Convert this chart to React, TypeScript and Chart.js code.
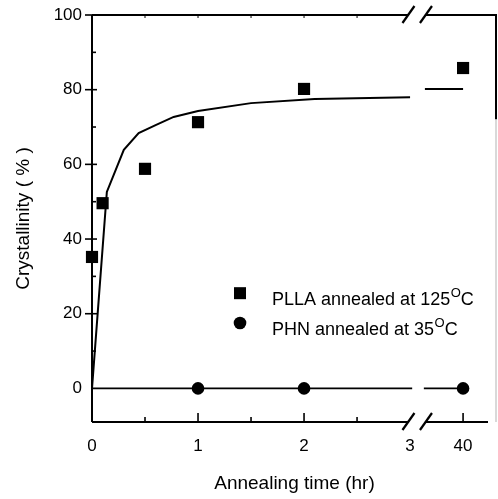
import React, { useEffect, useRef } from "react";
import { Chart, registerables } from "chart.js";

Chart.register(...registerables);

// ---- data ----
const xTickPositions = [0, 1, 2, 3, 3.5];
const xTickLabels = ["0", "1", "2", "3", "40"];
const yTickValues = [0, 20, 40, 60, 80, 100];
const yMinorTicks = [10, 30, 50, 70, 90];
const xMinorTicks = [0.5, 1.5, 2.5];
const xMajorInner = [1, 2, 3.5];
const topTicks = [0.5, 1, 1.5, 2, 2.5];

const pllaTimes = [0, 0.1, 0.5, 1, 2, 40];
const pllaCrystallinity = [35.2, 49.6, 58.8, 71.3, 80.2, 85.8];
const phnTimes = [1, 2, 40];
const phnCrystallinity = [0, 0, 0];

const fitTimes = [0, 0.14, 0.3, 0.44, 0.6, 0.77, 1, 1.5, 2.1, 3];
const fitCrystallinity = [0, 52.6, 63.9, 68.4, 70.5, 72.7, 74.3, 76.4, 77.5, 78.0];
const fitTailPositions = [3.14, 3.5];
const fitTailCrystallinity = [80.2, 80.2];

const phnLinePositions = [0, 3.02];
const phnLineValues = [0, 0];
const phnTailPositions = [3.13, 3.5];
const phnTailValues = [0, 0];

const legendLabels = ["PLLA annealed at 125", "PHN annealed at 35"];

// axis break: times up to 3 hr plotted linearly, 40 hr placed after the break
const toAxis = (t: number) => (t <= 3 ? t : 3.5);

const FONT = '"Liberation Sans", Arial, Helvetica, sans-serif';

const axesPlugin = {
  id: "brokenAxes",
  beforeDatasetsDraw(chart: any) {
    const { ctx, chartArea, scales } = chart;
    const x = scales.x;
    const y = scales.y;
    const L = chartArea.left, R = chartArea.right, T = chartArea.top, B = chartArea.bottom;
    const br1 = x.getPixelForValue(2.985);
    const br2 = x.getPixelForValue(3.15);
    ctx.save();
    ctx.strokeStyle = "#000";
    ctx.lineWidth = 2;
    ctx.lineCap = "butt";
    // left axis
    ctx.beginPath();
    ctx.moveTo(L, T);
    ctx.lineTo(L, B);
    ctx.stroke();
    // top axis with break
    ctx.beginPath();
    ctx.moveTo(L, T);
    ctx.lineTo(br1, T);
    ctx.moveTo(br2, T);
    ctx.lineTo(R, T);
    ctx.stroke();
    // bottom axis with break
    ctx.beginPath();
    ctx.moveTo(L, B);
    ctx.lineTo(br1, B);
    ctx.moveTo(br2, B);
    ctx.lineTo(R - 9, B);
    ctx.stroke();
    // right axis (dark top part, faded lower part as in the scan)
    const fadeY = y.getPixelForValue(72);
    ctx.beginPath();
    ctx.moveTo(R - 1, T);
    ctx.lineTo(R - 1, fadeY);
    ctx.stroke();
    ctx.strokeStyle = "#d9d9d9";
    ctx.beginPath();
    ctx.moveTo(R - 1, fadeY);
    ctx.lineTo(R - 1, B);
    ctx.stroke();
    ctx.strokeStyle = "#000";
    // break slashes
    ctx.lineWidth = 2.2;
    for (const yy of [T, B]) {
      for (const bx of [br1, br2]) {
        ctx.beginPath();
        ctx.moveTo(bx - 6, yy + 8);
        ctx.lineTo(bx + 6, yy - 9);
        ctx.stroke();
      }
    }
    ctx.lineWidth = 1.6;
    // y ticks
    for (const v of yTickValues) {
      if (v === 0) continue;
      const py = y.getPixelForValue(v);
      ctx.beginPath();
      ctx.moveTo(L - 7, py);
      ctx.lineTo(L + 5, py);
      ctx.stroke();
    }
    for (const v of yMinorTicks) {
      const py = y.getPixelForValue(v);
      ctx.beginPath();
      ctx.moveTo(L, py);
      ctx.lineTo(L + 4, py);
      ctx.stroke();
    }
    // x ticks (bottom, pointing inward)
    for (const v of xMajorInner) {
      const px = x.getPixelForValue(v);
      ctx.beginPath();
      ctx.moveTo(px, B);
      ctx.lineTo(px, B - 9);
      ctx.stroke();
    }
    for (const v of xMinorTicks) {
      const px = x.getPixelForValue(v);
      ctx.beginPath();
      ctx.moveTo(px, B);
      ctx.lineTo(px, B - 5);
      ctx.stroke();
    }
    ctx.lineWidth = 1;
    for (const v of topTicks) {
      const px = x.getPixelForValue(v);
      ctx.beginPath();
      ctx.moveTo(px, T);
      ctx.lineTo(px, T + 3);
      ctx.stroke();
    }
    ctx.restore();
  },
  afterDraw(chart: any) {
    const { ctx, scales } = chart;
    const x = scales.x;
    const y = scales.y;
    const mx = x.getPixelForValue(1.396);
    const rows = [
      { py: y.getPixelForValue(25.5), shape: "rect" },
      { py: y.getPixelForValue(17.5), shape: "circle" },
    ];
    ctx.save();
    ctx.fillStyle = "#000";
    rows.forEach((r, i) => {
      if (r.shape === "rect") {
        ctx.fillRect(mx - 6, r.py - 6, 12, 12);
      } else {
        ctx.beginPath();
        ctx.arc(mx, r.py, 6.3, 0, Math.PI * 2);
        ctx.fill();
      }
      const tx = mx + 32;
      const base = r.py + 12;
      ctx.textBaseline = "alphabetic";
      ctx.textAlign = "left";
      ctx.font = `18px ${FONT}`;
      const main = legendLabels[i];
      ctx.fillText(main, tx, base);
      const w = ctx.measureText(main).width;
      ctx.font = `13px ${FONT}`;
      ctx.fillText("O", tx + w + 0.5, base - 8);
      const ow = ctx.measureText("O").width;
      ctx.font = `18px ${FONT}`;
      ctx.fillText("C", tx + w + ow + 0.5, base);
    });
    ctx.restore();
  },
};

export default function App() {
  const ref = useRef<HTMLCanvasElement | null>(null);
  useEffect(() => {
    if (!ref.current) return;
    Chart.defaults.font.family = FONT;
    Chart.defaults.color = "#000";
    const chart = new Chart(ref.current, {
      type: "line",
      data: {
        datasets: [
          {
            label: "fit",
            data: fitTimes.map((t, i) => ({ x: toAxis(t), y: fitCrystallinity[i] })),
            borderColor: "#000",
            borderWidth: 2,
            pointRadius: 0,
            tension: 0,
            fill: false,
          },
          {
            label: "fit tail",
            data: fitTailPositions.map((p, i) => ({ x: p, y: fitTailCrystallinity[i] })),
            borderColor: "#000",
            borderWidth: 2,
            pointRadius: 0,
            tension: 0,
            fill: false,
          },
          {
            label: "phn line",
            data: phnLinePositions.map((p, i) => ({ x: p, y: phnLineValues[i] })),
            borderColor: "#000",
            borderWidth: 1.8,
            pointRadius: 0,
            tension: 0,
            fill: false,
          },
          {
            label: "phn tail",
            data: phnTailPositions.map((p, i) => ({ x: p, y: phnTailValues[i] })),
            borderColor: "#000",
            borderWidth: 1.8,
            pointRadius: 0,
            tension: 0,
            fill: false,
          },
          {
            label: "PLLA annealed at 125°C",
            data: pllaTimes.map((t, i) => ({ x: toAxis(t), y: pllaCrystallinity[i] })),
            showLine: false,
            clip: false,
            pointStyle: "rect",
            pointRadius: 8.6,
            pointBackgroundColor: "#000",
            pointBorderColor: "#000",
            pointBorderWidth: 0,
          },
          {
            label: "PHN annealed at 35°C",
            data: phnTimes.map((t, i) => ({ x: toAxis(t), y: phnCrystallinity[i] })),
            showLine: false,
            clip: false,
            pointStyle: "circle",
            pointRadius: 6.3,
            pointBackgroundColor: "#000",
            pointBorderColor: "#000",
            pointBorderWidth: 0,
          },
        ],
      },
      options: {
        responsive: false,
        animation: false,
        devicePixelRatio: 1,
        layout: { autoPadding: false, padding: { top: 15, right: 1, left: 0, bottom: 0 } },
        plugins: { legend: { display: false }, tooltip: { enabled: false } },
        scales: {
          x: {
            type: "linear",
            min: 0,
            max: 3.82,
            grid: { display: false, drawTicks: false },
            border: { display: false },
            afterBuildTicks: (s: any) => {
              s.ticks = xTickPositions.map((v) => ({ value: v }));
            },
            afterFit: (s: any) => {
              s.height = 77;
              s.paddingLeft = 0;
              s.paddingRight = 0;
            },
            ticks: {
              autoSkip: false,
              maxRotation: 0,
              padding: 14,
              font: { size: 17 },
              color: "#000",
              callback: (v: any) => {
                const i = xTickPositions.indexOf(Number(v));
                return i >= 0 ? xTickLabels[i] : "";
              },
            },
            title: {
              display: true,
              text: "Annealing time (hr)",
              font: { size: 19 },
              color: "#000",
              padding: { top: 0, bottom: 4 },
            },
          },
          y: {
            type: "linear",
            min: -9,
            max: 100,
            grid: { display: false, drawTicks: false },
            border: { display: false },
            afterBuildTicks: (s: any) => {
              s.ticks = yTickValues.map((v) => ({ value: v }));
            },
            afterFit: (s: any) => {
              s.width = 92;
              s.paddingTop = 0;
              s.paddingBottom = 0;
            },
            ticks: {
              padding: 10,
              font: { size: 17 },
              color: "#000",
            },
            title: {
              display: true,
              text: "Crystallinity ( % )",
              font: { size: 19 },
              color: "#000",
              padding: { top: 12, bottom: 0 },
            },
          },
        },
      },
      plugins: [axesPlugin],
    } as any);
    return () => chart.destroy();
  }, []);
  return (
    <div style={{ position: "absolute", left: 0, top: 0, width: 498, height: 499, background: "#fff" }}>
      <canvas ref={ref} width={498} height={499} style={{ display: "block" }} />
    </div>
  );
}
